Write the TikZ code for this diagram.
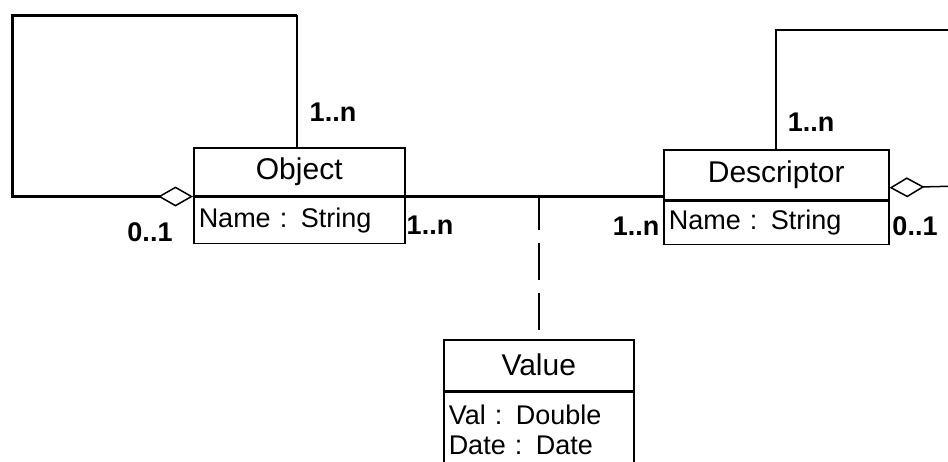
\documentclass[tikz,border=0pt]{standalone}
\usepackage{fontspec}
\setmainfont{Liberation Sans}
\usepackage{tikz}
\usetikzlibrary{arrows.meta,calc,positioning}
\tikzset{
	agg/.tip={Diamond[open, length=35pt, width=20pt, line width=1.5pt]},
	uml diagram/.style={
		x=1pt, y=-1pt,
		class head/.style={draw, line width=1.5pt, inner sep=0pt, anchor=north west,
			font=\fontsize{30}{34}\selectfont},
		class attr/.style={draw, line width=1.5pt, inner xsep=5pt, inner ysep=0pt, anchor=north west,
			align=left, font=\fontsize{27}{30}\selectfont},
		mult/.style={font=\bfseries\fontsize{27}{30}\selectfont, inner sep=0pt},
		assoc/.style={line width=3pt},
		link/.style={line width=1.5pt},
		note line/.style={line width=2.5pt, dash pattern=on 37pt off 13pt, dash phase=41pt}
		}
}

\begin{document}
\begin{tikzpicture}[uml diagram]
   \useasboundingbox (0,0) rectangle (948,461);
   \clip (0,0) rectangle (948,461);

   \node[class head, minimum width=211pt, minimum height=48pt] (objhead) at (193,147) {Object};
   \node[class attr, minimum width=211pt, minimum height=46pt, text width=201pt] (objattr) at (objhead.south west) {Name : String};

   \node[class head, minimum width=225pt, minimum height=50pt] (deschead) at (663,149) {Descriptor};
   \node[class attr, minimum width=225pt, minimum height=43pt, text width=215pt] (descattr) at (deschead.south west) {Name : String};

   \node[class head, minimum width=190pt, minimum height=51pt] (valhead) at (443,339) {Value};
   \node[class attr, minimum width=190pt, minimum height=76pt, text width=180pt] (valattr) at (valhead.south west) {Val : Double\\Date : Date};

   % self loop of Object
   \coordinate (objtop) at (297,15);
   \coordinate (objleft) at (12,15);
   \draw[link] ([xshift=104pt]objhead.north west) -- (objtop);
   \draw[assoc, -agg] (objtop) -- (objleft) |- (objhead.south west);

   % self loop of Descriptor
   \coordinate (desctop) at (960,30);
   \coordinate (descright) at (960,186);
   \draw[link] ([xshift=113pt]deschead.north west) |- (desctop);
   \draw[link, agg-] ([yshift=-13pt]deschead.east) -- (descright);

   \draw[assoc] (objhead.south east) -- (objhead.south east -| deschead.west);
   \draw[note line] (valhead.north) -- (valhead.north |- objhead.south);

   \node[mult] (m1) at (333,112) {1..n};
   \node[mult] (m2) at (150,232) {0..1};
   \node[mult] (m3) at (430,225) {1..n};
   \node[mult] (m4) at (636,226) {1..n};
   \node[mult] (m5) at (811,122) {1..n};
   \node[mult] (m6) at (915,226) {0..1};
\end{tikzpicture}
\end{document}
